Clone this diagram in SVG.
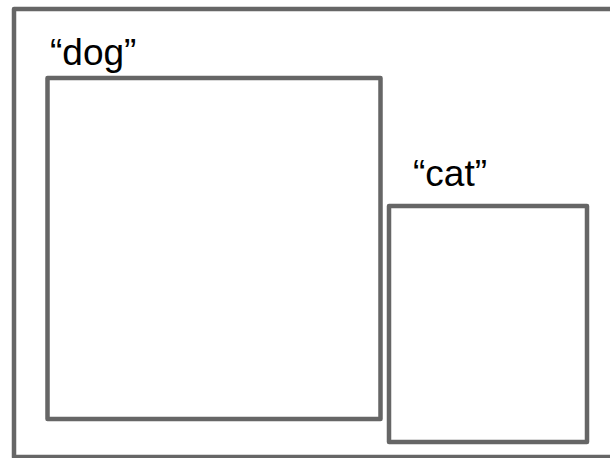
<svg xmlns="http://www.w3.org/2000/svg" width="610" height="458" viewBox="0 0 610 458">
  <style>
    .box { fill: none; stroke: #666666; stroke-width: 4.5; stroke-linejoin: round; }
    .label { font-family: "Liberation Sans", Arial, sans-serif; font-size: 37px; fill: #000000; }
  </style>
  <rect x="0" y="0" width="610" height="458" fill="#ffffff"/>
  <g id="frame">
    <rect class="box" x="14" y="9" width="610" height="448"/>
  </g>
  <g id="dog">
    <rect class="box" x="47.5" y="78" width="333" height="341"/>
    <text class="label" x="50" y="65">“dog”</text>
  </g>
  <g id="cat">
    <rect class="box" x="389" y="206" width="198" height="236"/>
    <text class="label" x="413" y="186">“cat”</text>
  </g>
  <g id="connectors"/>
</svg>
